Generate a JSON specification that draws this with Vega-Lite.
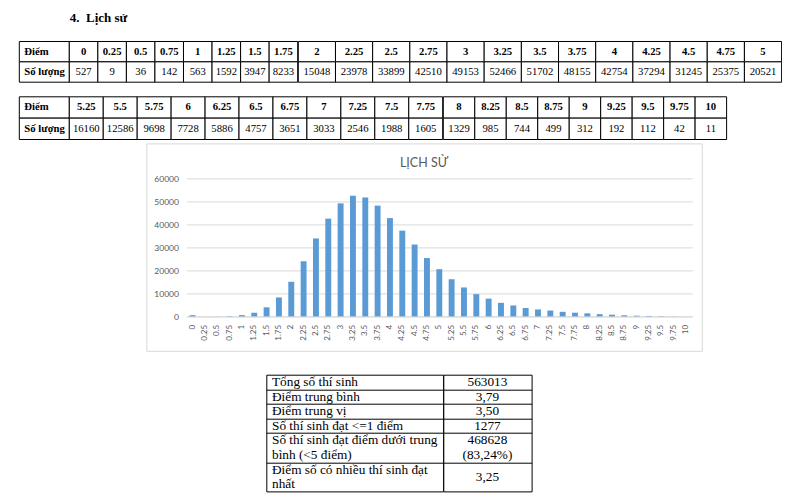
{
  "$schema": "https://vega.github.io/schema/vega-lite/v6.json",
  "background": "white",
  "padding": {"left": 18.3, "top": 11.5, "right": 0, "bottom": 0},
  "title": {"text": "4.\u00a0\u00a0Lịch sử", "anchor": "start", "dx": 51, "offset": 16, "baseline": "top", "font": "Liberation Serif", "fontSize": 13, "fontWeight": "bold", "color": "black"},
  "spacing": 12.3,
  "datasets": {
    "diem": [
      {"d": "0", "n": 527, "b": 1}, {"d": "0.25", "n": 9, "b": 1}, {"d": "0.5", "n": 36, "b": 1}, {"d": "0.75", "n": 142, "b": 1},
      {"d": "1", "n": 563, "b": 1}, {"d": "1.25", "n": 1592, "b": 1}, {"d": "1.5", "n": 3947, "b": 1}, {"d": "1.75", "n": 8233, "b": 1},
      {"d": "2", "n": 15048, "b": 1}, {"d": "2.25", "n": 23978, "b": 1}, {"d": "2.5", "n": 33899, "b": 1}, {"d": "2.75", "n": 42510, "b": 1},
      {"d": "3", "n": 49153, "b": 1}, {"d": "3.25", "n": 52466, "b": 1}, {"d": "3.5", "n": 51702, "b": 1}, {"d": "3.75", "n": 48155, "b": 1},
      {"d": "4", "n": 42754, "b": 1}, {"d": "4.25", "n": 37294, "b": 1}, {"d": "4.5", "n": 31245, "b": 1}, {"d": "4.75", "n": 25375, "b": 1},
      {"d": "5", "n": 20521, "b": 1},
      {"d": "5.25", "n": 16160, "b": 2}, {"d": "5.5", "n": 12586, "b": 2}, {"d": "5.75", "n": 9698, "b": 2}, {"d": "6", "n": 7728, "b": 2},
      {"d": "6.25", "n": 5886, "b": 2}, {"d": "6.5", "n": 4757, "b": 2}, {"d": "6.75", "n": 3651, "b": 2}, {"d": "7", "n": 3033, "b": 2},
      {"d": "7.25", "n": 2546, "b": 2}, {"d": "7.5", "n": 1988, "b": 2}, {"d": "7.75", "n": 1605, "b": 2}, {"d": "8", "n": 1329, "b": 2},
      {"d": "8.25", "n": 985, "b": 2}, {"d": "8.5", "n": 744, "b": 2}, {"d": "8.75", "n": 499, "b": 2}, {"d": "9", "n": 312, "b": 2},
      {"d": "9.25", "n": 192, "b": 2}, {"d": "9.5", "n": 112, "b": 2}, {"d": "9.75", "n": 42, "b": 2}, {"d": "10", "n": 11, "b": 2}
    ],
    "hang": [{"h": "Điểm"}, {"h": "Số lượng"}],
    "tk": [
      {"c": "l", "r": 0, "t": "Tổng số thí sinh"},
      {"c": "l", "r": 1, "t": "Điểm trung bình"},
      {"c": "l", "r": 2, "t": "Điểm trung vị"},
      {"c": "l", "r": 3, "t": "Số thí sinh đạt <=1 điểm"},
      {"c": "l", "r": 4, "t": "Số thí sinh đạt điểm dưới trung"},
      {"c": "l", "r": 5, "t": "bình (<5 điểm)"},
      {"c": "l", "r": 6, "t": "Điểm số có nhiều thí sinh đạt"},
      {"c": "l", "r": 7, "t": "nhất"},
      {"c": "r", "r": 0, "t": "563013"},
      {"c": "r", "r": 1, "t": "3,79"},
      {"c": "r", "r": 2, "t": "3,50"},
      {"c": "r", "r": 3, "t": "1277"},
      {"c": "r", "r": 4, "t": "468628"},
      {"c": "r", "r": 5, "t": "(83,24%)"},
      {"c": "r", "r": 6.5, "t": "3,25"}
    ]
  },
  "vconcat": [
    {
      "hconcat": [
        {
          "width": 50, "height": 40.7,
          "data": {"name": "hang"},
          "layer": [
            {"mark": {"type": "rect", "fill": "white", "stroke": "black", "strokeWidth": 1},
             "encoding": {
               "x": {"datum": 0, "type": "quantitative", "scale": {"domain": [0, 1], "nice": false}, "axis": null},
               "x2": {"datum": 1},
               "y": {"field": "h", "type": "nominal", "sort": null, "axis": null, "scale": {"paddingInner": 0, "paddingOuter": 0}}}},
            {"mark": {"type": "text", "align": "left", "dx": 5, "baseline": "middle", "fontWeight": "bold", "fontSize": 10.7, "font": "Liberation Serif", "color": "black"},
             "encoding": {
               "x": {"datum": 0, "type": "quantitative"},
               "y": {"field": "h", "type": "nominal", "sort": null},
               "text": {"field": "h"}}}
          ]
        },
        {
          "width": 228.4, "height": 40.7,
          "data": {"name": "diem"},
          "transform": [{"filter": "datum.b == 1 && toNumber(datum.d) < 2"}, {"fold": ["d", "n"], "as": ["hang", "gt"]}],
          "layer": [
            {"mark": {"type": "rect", "fill": "white", "stroke": "black", "strokeWidth": 1},
             "encoding": {
               "x": {"field": "d", "type": "nominal", "sort": null, "axis": null, "scale": {"paddingInner": 0, "paddingOuter": 0}},
               "y": {"field": "hang", "type": "nominal", "axis": null, "scale": {"domain": ["d", "n"], "paddingInner": 0, "paddingOuter": 0}}}},
            {"transform": [{"filter": "datum.hang == 'd'"}],
             "mark": {"type": "text", "baseline": "middle", "fontWeight": "bold", "fontSize": 10.7, "font": "Liberation Serif", "color": "black"},
             "encoding": {
               "x": {"field": "d", "type": "nominal", "sort": null},
               "y": {"field": "hang", "type": "nominal"},
               "text": {"field": "gt", "type": "nominal"}}},
            {"transform": [{"filter": "datum.hang == 'n'"}],
             "mark": {"type": "text", "baseline": "middle", "fontSize": 10.7, "font": "Liberation Serif", "color": "black"},
             "encoding": {
               "x": {"field": "d", "type": "nominal", "sort": null},
               "y": {"field": "hang", "type": "nominal"},
               "text": {"field": "gt", "type": "nominal"}}}
          ]
        },
        {
          "width": 483.3, "height": 40.7,
          "data": {"name": "diem"},
          "transform": [{"filter": "datum.b == 1 && toNumber(datum.d) >= 2"}, {"fold": ["d", "n"], "as": ["hang", "gt"]}],
          "layer": [
            {"mark": {"type": "rect", "fill": "white", "stroke": "black", "strokeWidth": 1},
             "encoding": {
               "x": {"field": "d", "type": "nominal", "sort": null, "axis": null, "scale": {"paddingInner": 0, "paddingOuter": 0}},
               "y": {"field": "hang", "type": "nominal", "axis": null, "scale": {"domain": ["d", "n"], "paddingInner": 0, "paddingOuter": 0}}}},
            {"transform": [{"filter": "datum.hang == 'd'"}],
             "mark": {"type": "text", "baseline": "middle", "fontWeight": "bold", "fontSize": 10.7, "font": "Liberation Serif", "color": "black"},
             "encoding": {
               "x": {"field": "d", "type": "nominal", "sort": null},
               "y": {"field": "hang", "type": "nominal"},
               "text": {"field": "gt", "type": "nominal"}}},
            {"transform": [{"filter": "datum.hang == 'n'"}],
             "mark": {"type": "text", "baseline": "middle", "fontSize": 10.7, "font": "Liberation Serif", "color": "black"},
             "encoding": {
               "x": {"field": "d", "type": "nominal", "sort": null},
               "y": {"field": "hang", "type": "nominal"},
               "text": {"field": "gt", "type": "nominal"}}}
          ]
        }
      ],
      "spacing": 0, "bounds": "flush"
    },
    {
      "vconcat": [
        {
          "hconcat": [
            {
              "width": 50, "height": 42.7,
              "data": {"name": "hang"},
              "layer": [
                {"mark": {"type": "rect", "fill": "white", "stroke": "black", "strokeWidth": 1},
                 "encoding": {
                   "x": {"datum": 0, "type": "quantitative", "scale": {"domain": [0, 1], "nice": false}, "axis": null},
                   "x2": {"datum": 1},
                   "y": {"field": "h", "type": "nominal", "sort": null, "axis": null, "scale": {"paddingInner": 0, "paddingOuter": 0}}}},
                {"mark": {"type": "text", "align": "left", "dx": 5, "baseline": "middle", "fontWeight": "bold", "fontSize": 10.7, "font": "Liberation Serif", "color": "black"},
                 "encoding": {
                   "x": {"datum": 0, "type": "quantitative"},
                   "y": {"field": "h", "type": "nominal", "sort": null},
                   "text": {"field": "h"}}}
              ]
            },
            {
              "width": 373.4, "height": 42.7,
              "data": {"name": "diem"},
              "transform": [{"filter": "datum.b == 2 && toNumber(datum.d) < 8"}, {"fold": ["d", "n"], "as": ["hang", "gt"]}],
              "layer": [
                {"mark": {"type": "rect", "fill": "white", "stroke": "black", "strokeWidth": 1},
                 "encoding": {
                   "x": {"field": "d", "type": "nominal", "sort": null, "axis": null, "scale": {"paddingInner": 0, "paddingOuter": 0}},
                   "y": {"field": "hang", "type": "nominal", "axis": null, "scale": {"domain": ["d", "n"], "paddingInner": 0, "paddingOuter": 0}}}},
                {"transform": [{"filter": "datum.hang == 'd'"}],
                 "mark": {"type": "text", "baseline": "middle", "fontWeight": "bold", "fontSize": 10.7, "font": "Liberation Serif", "color": "black"},
                 "encoding": {
                   "x": {"field": "d", "type": "nominal", "sort": null},
                   "y": {"field": "hang", "type": "nominal"},
                   "text": {"field": "gt", "type": "nominal"}}},
                {"transform": [{"filter": "datum.hang == 'n'"}],
                 "mark": {"type": "text", "baseline": "middle", "fontSize": 10.7, "font": "Liberation Serif", "color": "black"},
                 "encoding": {
                   "x": {"field": "d", "type": "nominal", "sort": null},
                   "y": {"field": "hang", "type": "nominal"},
                   "text": {"field": "gt", "type": "nominal"}}}
              ]
            },
            {
              "width": 283.3, "height": 42.7,
              "data": {"name": "diem"},
              "transform": [{"filter": "datum.b == 2 && toNumber(datum.d) >= 8"}, {"fold": ["d", "n"], "as": ["hang", "gt"]}],
              "layer": [
                {"mark": {"type": "rect", "fill": "white", "stroke": "black", "strokeWidth": 1},
                 "encoding": {
                   "x": {"field": "d", "type": "nominal", "sort": null, "axis": null, "scale": {"paddingInner": 0, "paddingOuter": 0}},
                   "y": {"field": "hang", "type": "nominal", "axis": null, "scale": {"domain": ["d", "n"], "paddingInner": 0, "paddingOuter": 0}}}},
                {"transform": [{"filter": "datum.hang == 'd'"}],
                 "mark": {"type": "text", "baseline": "middle", "fontWeight": "bold", "fontSize": 10.7, "font": "Liberation Serif", "color": "black"},
                 "encoding": {
                   "x": {"field": "d", "type": "nominal", "sort": null},
                   "y": {"field": "hang", "type": "nominal"},
                   "text": {"field": "gt", "type": "nominal"}}},
                {"transform": [{"filter": "datum.hang == 'n'"}],
                 "mark": {"type": "text", "baseline": "middle", "fontSize": 10.7, "font": "Liberation Serif", "color": "black"},
                 "encoding": {
                   "x": {"field": "d", "type": "nominal", "sort": null},
                   "y": {"field": "hang", "type": "nominal"},
                   "text": {"field": "gt", "type": "nominal"}}}
              ]
            }
          ],
          "spacing": 0, "bounds": "flush"
        },
        {
          "vconcat": [
            {
              "hconcat": [
                {"width": 127, "height": 1, "data": {"values": []}, "mark": "point", "encoding": {}},
                {
                  "width": 555.5, "height": 207.4,
                  "view": {"stroke": "#d9d9d9", "fill": "white"},
                  "title": {"text": "LỊCH SỬ", "frame": "group", "anchor": "middle", "offset": -28, "dy": 8, "baseline": "alphabetic", "font": "Lato", "fontSize": 12.5, "fontWeight": "normal", "color": "#595959"},
                  "data": {"name": "diem"},
                  "mark": {"type": "bar", "color": "#5b9bd5"},
                  "encoding": {
                    "x": {"field": "d", "type": "nominal", "sort": null,
                          "scale": {"range": [40.1, 545.9], "paddingInner": 0.52, "paddingOuter": 0.26},
                          "axis": {"title": null, "labelAngle": 270, "labelFont": "Lato", "labelFontSize": 8, "labelColor": "#595959", "ticks": false, "tickSize": 0, "labelPadding": 8, "domainColor": "#d9d9d9", "offset": -34.4, "grid": false, "labelOverlap": false}},
                    "y": {"field": "n", "type": "quantitative",
                          "scale": {"domain": [0, 60000], "range": [173, 35], "nice": false},
                          "axis": {"title": null, "values": [0, 10000, 20000, 30000, 40000, 50000, 60000], "format": "d", "labelFont": "Lato", "labelFontSize": 8.5, "labelColor": "#595959", "ticks": false, "tickSize": 0, "domain": false, "labelPadding": 8, "grid": true, "gridColor": "#d9d9d9", "offset": -40.1}}
                  }
                }
              ],
              "spacing": 0, "bounds": "flush"
            },
            {
              "hconcat": [
                {"width": 246.2, "height": 1, "data": {"values": []}, "mark": "point", "encoding": {}},
                {
                  "width": 176.7, "height": 116.7,
                  "view": {"stroke": "black", "fill": "white"},
                  "data": {"name": "tk"},
                  "transform": [{"filter": "datum.c == 'l'"}],
                  "mark": {"type": "text", "align": "left", "dx": 5.7, "baseline": "middle", "fontSize": 13.3, "font": "Liberation Serif", "color": "black"},
                  "encoding": {
                    "x": {"datum": 0, "type": "quantitative", "scale": {"domain": [0, 1], "nice": false}, "axis": null},
                    "y": {"field": "r", "type": "quantitative", "scale": {"domain": [-0.5, 7.5], "reverse": true, "nice": false, "zero": false},
                          "axis": {"title": null, "values": [0.5, 1.5, 2.5, 3.5, 5.5], "labels": false, "ticks": false, "domain": false, "grid": true, "gridColor": "black", "gridOpacity": 1}},
                    "text": {"field": "t"}
                  }
                },
                {
                  "width": 88.3, "height": 116.7,
                  "view": {"stroke": "black", "fill": "white"},
                  "data": {"name": "tk"},
                  "transform": [{"filter": "datum.c == 'r'"}],
                  "mark": {"type": "text", "align": "center", "baseline": "middle", "fontSize": 13.3, "font": "Liberation Serif", "color": "black"},
                  "encoding": {
                    "x": {"datum": 0.5, "type": "quantitative", "scale": {"domain": [0, 1], "nice": false}, "axis": null},
                    "y": {"field": "r", "type": "quantitative", "scale": {"domain": [-0.5, 7.5], "reverse": true, "nice": false, "zero": false},
                          "axis": {"title": null, "values": [0.5, 1.5, 2.5, 3.5, 5.5], "labels": false, "ticks": false, "domain": false, "grid": true, "gridColor": "black", "gridOpacity": 1}},
                    "text": {"field": "t"}
                  }
                }
              ],
              "spacing": 0, "bounds": "flush"
            }
          ],
          "spacing": 22.3, "bounds": "full"
        }
      ],
      "spacing": 1.6, "bounds": "full"
    }
  ],
  "config": {
    "view": {"stroke": null},
    "font": "Liberation Serif"
  }
}
